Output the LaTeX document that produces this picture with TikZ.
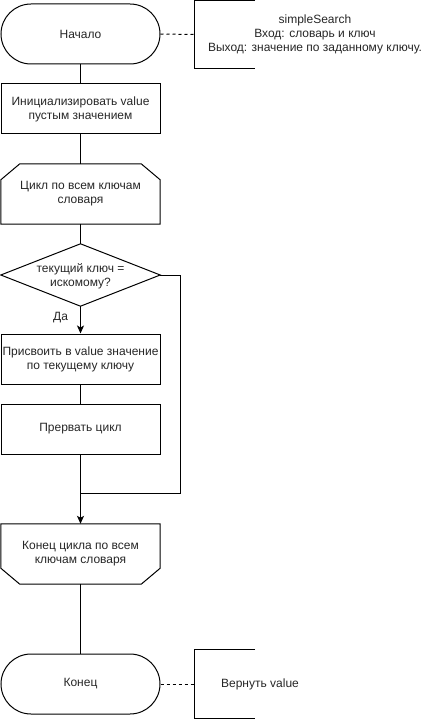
\documentclass[tikz,border=0pt]{standalone}
\usepackage{fontspec}
\setmainfont{Liberation Sans}
\usetikzlibrary{calc,arrows.meta}
\begin{document}
\begin{tikzpicture}[x=1pt,y=-1pt,
  every node/.style={font=\fontsize{12}{14}\selectfont, text=black!85, align=center, inner sep=0pt},
  ln/.style={line width=1pt, draw=black},
  blk/.style={minimum width=159, minimum height=50},
  tall/.style={minimum width=159, minimum height=60},
  term/.style={tall, draw=black, line width=1pt, rounded corners=30},
  proc/.style={blk, draw=black, line width=1pt},
  arr/.style={ln, -{Stealth[length=8pt,width=7pt,inset=2pt]}},
  dashline/.style={ln, dash pattern=on 3pt off 3pt}
]
\useasboundingbox (0,0) rectangle (442,719);

% nodes
\node[term] (start) at (80.5,34) {Начало};
\node[minimum width=60, minimum height=67] (n1) at (225,34.5) {};
\node (t1) at (315,34) {simpleSearch\\Вход: словарь и ключ\\Выход: значение по заданному ключу.};

\node[proc] (init) at (80.5,109) {Инициализировать value\\пустым значением};

\node[tall] (loop) at (80.5,194) {Цикл по всем ключам\\словаря};

\node[minimum width=159, minimum height=62] (cond) at (80.5,275) {};
\node at (80.5,276) {текущий ключ =\\искомому?};

\node[proc] (assign) at (80.5,359) {Присвоить в value значение\\по текущему ключу};
\node[proc] (brk) at (80.5,429) {Прервать цикл};

\node[tall] (lend) at (80.5,554) {Конец цикла по всем\\ключам словаря};

\node[term] (fin) at (80.5,684) {Конец};
\node[minimum width=60, minimum height=68] (n2) at (225,684) {};
\node (t2) at (260,684) {Вернуть value};

\coordinate (jr) at (180,493);
\coordinate (jm) at (80.5,493);

% shapes drawn by hand
\draw[ln] (n1.north east) -- (n1.north west) -- (n1.south west) -- (n1.south east);
\draw[ln] (n2.north east) -- (n2.north west) -- (n2.south west) -- (n2.south east);
\draw[ln] (loop.south west) -- ($(loop.north west)+(0,16)$) -- ($(loop.north west)+(19,0)$)
  -- ($(loop.north east)+(-19,0)$) -- ($(loop.north east)+(0,16)$) -- (loop.south east) -- cycle;
\draw[ln] (lend.north west) -- ($(lend.south west)+(0,-16)$) -- ($(lend.south west)+(19,0)$)
  -- ($(lend.south east)+(-19,0)$) -- ($(lend.south east)+(0,-16)$) -- (lend.north east) -- cycle;
\draw[ln] (cond.north) -- (cond.east) -- (cond.south) -- (cond.west) -- cycle;

% connectors
\draw[dashline] (start.east) -- (n1.west);
\draw[dashline] (fin.east) -- (n2.west);
\draw[ln] (start.south) -- (init.north);
\draw[ln] (init.south) -- (loop.north);
\draw[ln] (loop.south) -- (cond.north);
\draw[arr] (cond.south) -- node[pos=0.4, anchor=east, xshift=-12pt] {Да} (assign.north);
\draw[ln] (assign.south) -- (brk.north);
\draw[arr] (brk.south) -- (lend.north);
\draw[ln] (cond.east) -| (jr) -- (jm);
\draw[ln] (lend.south) -- (fin.north);
\end{tikzpicture}
\end{document}
